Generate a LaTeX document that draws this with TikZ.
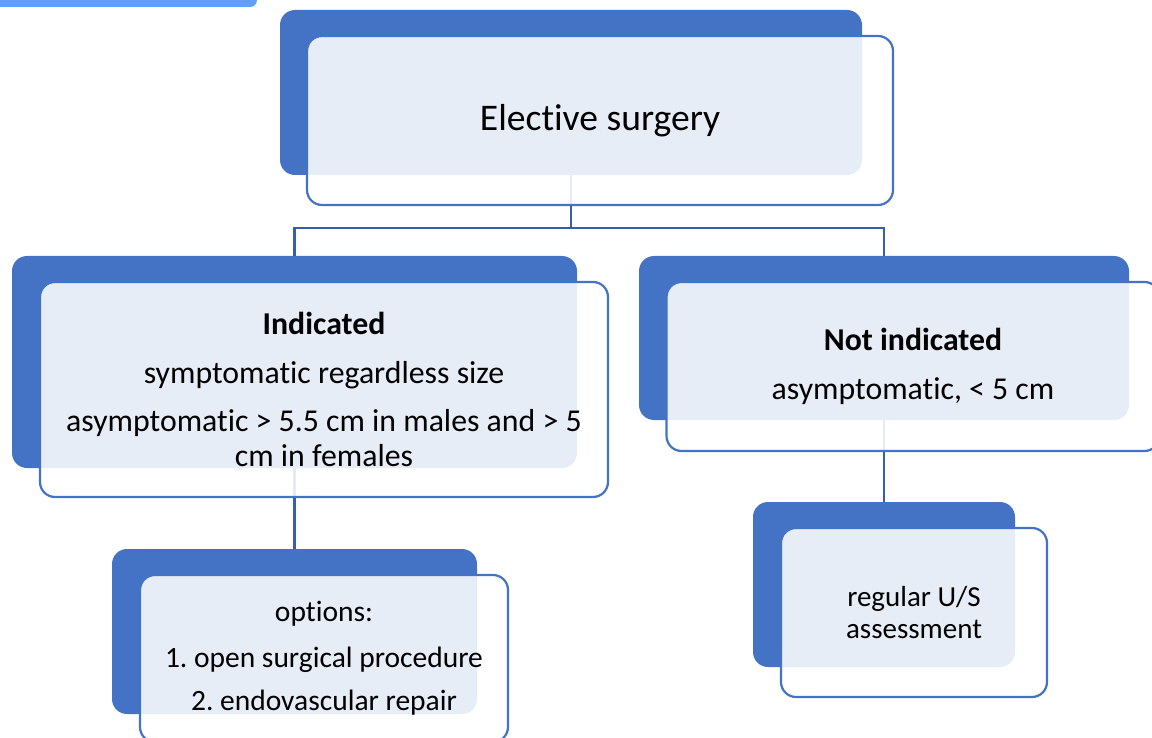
\documentclass[tikz,border=0pt]{standalone}
\usepackage{fontspec}
\setmainfont[Ligatures=NoCommon]{Carlito}
\usepackage{tikz}
\definecolor{backblue}{RGB}{68,114,196}
\definecolor{linkblue}{RGB}{54,95,170}
\definecolor{stripblue}{RGB}{94,160,250}
\frenchspacing

\begin{document}
\begin{tikzpicture}[x=1pt,y=-1pt,
  backbox/.style={fill=backblue,rounded corners=15pt,inner sep=0pt,outer sep=0pt},
  frontbox/.style={draw=backblue,line width=2.2pt,fill=white,fill opacity=0.875,
    text opacity=1,rounded corners=15pt,align=center,inner sep=0pt,outer sep=0pt},
  link/.style={linkblue,line width=2.8pt}]
 \useasboundingbox (0,0) rectangle (1152,738);
 \fill[stripblue,rounded corners=7pt] (-20,-10) rectangle (257,7);
 % back boxes
 \node[backbox,minimum width=582,minimum height=165] (topback) at (571,92.5) {};
 \node[backbox,minimum width=565,minimum height=212] (indback) at (294.5,362) {};
 \node[backbox,minimum width=490,minimum height=164] (notback) at (884,338) {};
 \node[backbox,minimum width=365,minimum height=165] (optback) at (294.5,631.5) {};
 \node[backbox,minimum width=262,minimum height=165] (usback) at (884,584.5) {};
 % connectors
 \draw[link] (topback.south) -- ++(0,53) coordinate (fork);
 \draw[link] (indback.north) |- (fork) -| (notback.north);
 \draw[link] (indback.south) -- (optback.north);
 \draw[link] (notback.south) -- (usback.north);
 % front boxes
 \node[frontbox,minimum width=586,minimum height=169,font=\fontsize{37.6}{44}\selectfont]
   (top) at (600,120.5) {Elective surgery};
 \node[frontbox,minimum width=568,minimum height=215,font=\fontsize{31.8}{35}\selectfont]
   (ind) at (324,389.5) {{\bfseries Indicated}\\[14pt]
   symptomatic regardless size\\[13pt]
   asymptomatic > 5.5 cm in males and > 5\\ cm in females};
 \node[frontbox,minimum width=493,minimum height=169,font=\fontsize{31.8}{35}\selectfont]
   (not) at (913,366.5) {{\bfseries Not indicated}\\[14pt] asymptomatic, < 5 cm};
 \node[frontbox,minimum width=368,minimum height=167,font=\fontsize{29.5}{33}\selectfont]
   (opt) at (324,658.5) {options:\\[13pt] 1. open surgical procedure\\[10pt] 2. endovascular repair};
 \node[frontbox,minimum width=266,minimum height=169,font=\fontsize{29}{32}\selectfont]
   (us) at (914,612.5) {regular U/S\\ assessment};
\end{tikzpicture}
\end{document}
